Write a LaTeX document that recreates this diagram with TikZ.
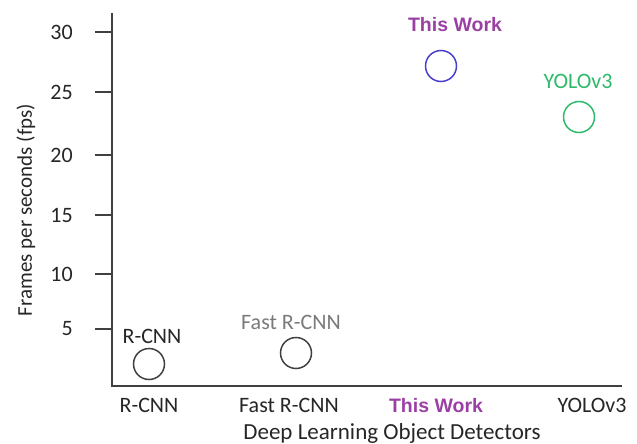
\documentclass[tikz,border=0pt]{standalone}
\usepackage{fontspec}
\setmainfont{Carlito}
\newfontfamily\boldsans{Liberation Sans}
\definecolor{axisgray}{HTML}{404040}
\definecolor{workpurple}{HTML}{9A3FA3}
\definecolor{workblue}{HTML}{4A3FC9}
\definecolor{yologreen}{HTML}{2DBA6A}
\definecolor{fastgray}{HTML}{7A7A7A}
\begin{document}
\begin{tikzpicture}[x=1pt,y=-1pt,
  axis/.style={draw=axisgray,line width=1.5pt},
  ticklabel/.style={font=\fontsize{22}{22}\selectfont,text=black!85,anchor=east,inner sep=0pt},
  catlabel/.style={font=\fontsize{22}{22}\selectfont,text=black!85,inner sep=0pt},
  worklabel/.style={font=\fontsize{19.5}{19.5}\selectfont\boldsans\bfseries,text=workpurple,inner sep=0pt},
  marker/.style={circle,draw,line width=1.5pt,minimum size=31pt,inner sep=0pt}]
\useasboundingbox (0,0) rectangle (637,444);
% axes
\coordinate (ytop) at (112,13);
\coordinate (origin) at (112,386);
\coordinate (xend) at (622,386);
\draw[axis] (ytop) -- (origin) -- (xend);
% y ticks and labels
\foreach \v/\y in {30/32,25/92,20/155,15/215,10/274,5/329}{
  \coordinate (t\v) at (112,\y);
  \draw[axis] ([xshift=-17pt]t\v) -- (t\v);
  \node[ticklabel] (l\v) at (73,\y) {\v};
}
% axis titles
\node[catlabel,font=\fontsize{21}{21}\selectfont,rotate=90] (ytitle) at (26,210) {Frames per seconds (fps)};
\node[catlabel,font=\fontsize{23}{23}\selectfont] (xtitle) at (392,433) {Deep Learning Object Detectors};
% category labels
\node[catlabel] (c1) at (149,405) {R-CNN};
\node[catlabel] (c2) at (289,405) {Fast R-CNN};
\node[worklabel] (c3) at (436,406) {This Work};
\node[catlabel] (c4) at (592,405) {YOLOv3};
% data points
\node[marker,draw=axisgray] (p1) at (149,364) {};
\node[marker,draw=axisgray] (p2) at (296,353) {};
\node[marker,draw=workblue] (p3) at (441,66) {};
\node[marker,draw=yologreen] (p4) at (579,117) {};
% point labels
\node[catlabel] (n1) at (152,336) {R-CNN};
\node[catlabel,text=fastgray] (n2) at (291,322) {Fast R-CNN};
\node[worklabel] (n3) at (455,25) {This Work};
\node[catlabel,text=yologreen] (n4) at (578,81) {YOLOv3};
\end{tikzpicture}
\end{document}
